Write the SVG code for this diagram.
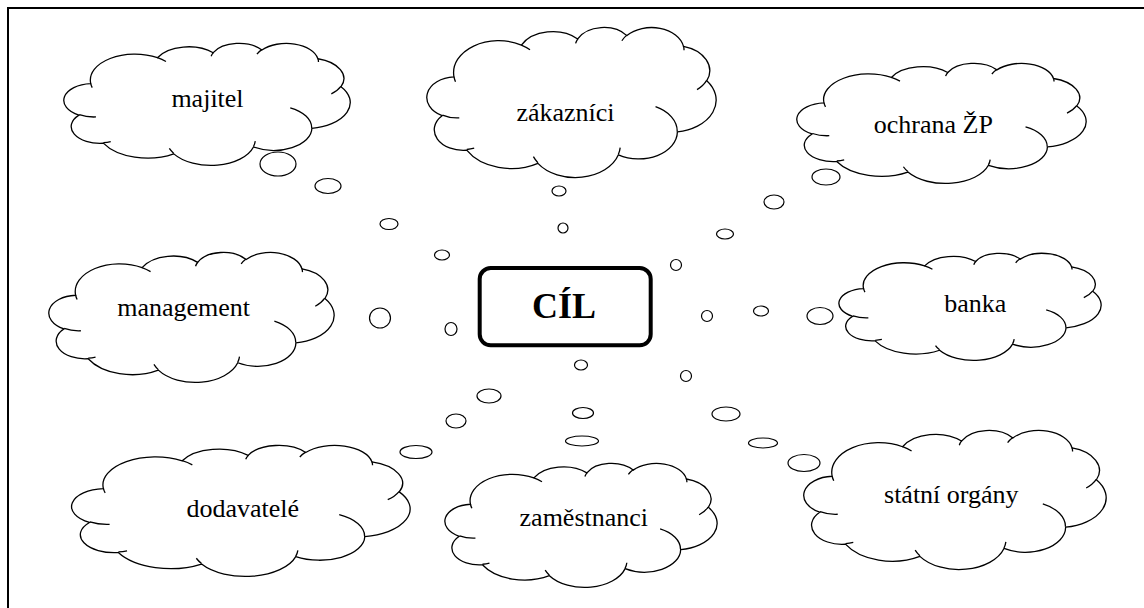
<svg xmlns="http://www.w3.org/2000/svg" xmlns:xlink="http://www.w3.org/1999/xlink" width="1144" height="608" viewBox="0 0 1144 608">
  <style>
    .outline { fill: #ffffff; stroke: #000000; stroke-width: 1.3; vector-effect: non-scaling-stroke; }
    .inner { fill: none; stroke: #000000; stroke-width: 1.3; vector-effect: non-scaling-stroke; }
    .bubble { fill: #ffffff; stroke: #000000; stroke-width: 1.2; }
    .label { font-family: "Liberation Serif", "Times New Roman", serif; font-size: 26px; fill: #000000; text-anchor: middle; }
    .goal { font-family: "Liberation Serif", "Times New Roman", serif; font-size: 36px; font-weight: bold; fill: #000000; text-anchor: middle; }
  </style>
  <defs>
    <!-- cloud outline in a 43200 x 43200 unit box -->
    <path id="cloud-shape" class="outline" d="M 3900 14370 A 6753 9190 0 0 1 14006 5203 A 5333 7267 0 0 1 22457 3431 A 4365 5945 0 0 1 29834 2479 A 4857 6595 0 0 1 38320 5574 A 5333 7273 0 0 1 41820 15458 A 6775 9220 0 0 1 37406 30201 A 5785 7867 0 0 1 28558 36812 A 6752 9215 0 0 1 16484 39263 A 7720 10543 0 0 1 5807 35469 A 4360 5918 0 0 1 2115 25547 A 4345 5945 0 0 1 3900 14370 Z"/>
    <!-- short inner strokes where the lobes meet -->
    <path id="cloud-folds" class="inner" d="M 4693 26177 A 4345 5945 0 0 1 2159 25380 M 6928 34899 A 4360 5918 0 0 1 5820 35280 M 16478 39090 A 6752 9215 0 0 1 15810 37348 M 28827 34751 A 6752 9215 0 0 1 28560 36661 M 34129 22954 A 5785 7867 0 0 1 37381 30090 M 41798 15354 A 5333 7273 0 0 1 40351 18029 M 38324 5426 A 4857 6595 0 0 1 38400 6690 M 29078 3952 A 4857 6595 0 0 1 29820 2340 M 22141 4720 A 4365 5945 0 0 1 22500 3331 M 14000 5192 A 6753 9190 0 0 1 15299 6540 M 4127 15789 A 6753 9190 0 0 1 3900 14371"/>
    <g id="cloud">
      <use xlink:href="#cloud-shape"/>
      <use xlink:href="#cloud-folds"/>
    </g>
  </defs>

  <rect width="1144" height="608" fill="#ffffff"/>

  <!-- page frame (top and left edges) -->
  <g id="frame" stroke="#000000" stroke-width="2" fill="none">
    <line x1="8" y1="8" x2="1144" y2="8"/>
    <line x1="8" y1="7" x2="8" y2="608"/>
  </g>

  <!-- thought-bubble chains linking each cloud to the goal -->
  <g id="connectors">
    <!-- majitel -->
    <ellipse class="bubble" cx="278" cy="164" rx="18" ry="12"/>
    <ellipse class="bubble" cx="328" cy="186" rx="13" ry="7.5"/>
    <ellipse class="bubble" cx="389" cy="224" rx="9" ry="5.5"/>
    <ellipse class="bubble" cx="442" cy="255" rx="7.5" ry="5"/>
    <!-- zákazníci -->
    <ellipse class="bubble" cx="559" cy="191" rx="7" ry="5"/>
    <ellipse class="bubble" cx="563" cy="228" rx="5" ry="5"/>
    <!-- ochrana ŽP -->
    <ellipse class="bubble" cx="826" cy="177" rx="14" ry="8"/>
    <ellipse class="bubble" cx="774" cy="202" rx="10" ry="7"/>
    <ellipse class="bubble" cx="725" cy="234" rx="8.5" ry="5"/>
    <ellipse class="bubble" cx="676" cy="265" rx="5.5" ry="5.5"/>
    <!-- management -->
    <ellipse class="bubble" cx="380" cy="318" rx="10.5" ry="10"/>
    <ellipse class="bubble" cx="451" cy="329" rx="6" ry="6.5"/>
    <!-- banka -->
    <ellipse class="bubble" cx="820" cy="316" rx="13" ry="8.5"/>
    <ellipse class="bubble" cx="761" cy="311" rx="7.5" ry="5"/>
    <ellipse class="bubble" cx="707" cy="316" rx="5.5" ry="5.5"/>
    <!-- dodavatelé -->
    <ellipse class="bubble" cx="416" cy="452" rx="16" ry="6.5"/>
    <ellipse class="bubble" cx="456" cy="421" rx="10" ry="7"/>
    <ellipse class="bubble" cx="489" cy="396" rx="12" ry="7"/>
    <!-- zaměstnanci -->
    <ellipse class="bubble" cx="581" cy="365" rx="6.5" ry="5"/>
    <ellipse class="bubble" cx="583" cy="413" rx="10.5" ry="5.5"/>
    <ellipse class="bubble" cx="582" cy="441" rx="16.5" ry="5"/>
    <!-- státní orgány -->
    <ellipse class="bubble" cx="686" cy="376" rx="5.5" ry="5.5"/>
    <ellipse class="bubble" cx="726" cy="414" rx="14" ry="7"/>
    <ellipse class="bubble" cx="763" cy="443" rx="14.5" ry="5"/>
    <ellipse class="bubble" cx="804" cy="463" rx="16" ry="8.5"/>
  </g>

  <g id="node-majitel">
    <use xlink:href="#cloud" transform="translate(65,43) scale(0.0066,0.002824)"/>
    <text class="label" x="207.5" y="107">majitel</text>
  </g>
  <g id="node-zakaznici">
    <use xlink:href="#cloud" transform="translate(428,27) scale(0.006667,0.003472)"/>
    <text class="label" x="565.5" y="120.5">zákazníci</text>
  </g>
  <g id="node-ochrana">
    <use xlink:href="#cloud" transform="translate(798,63) scale(0.006667,0.002778)"/>
    <text class="label" x="933.3" y="132.5">ochrana ŽP</text>
  </g>
  <g id="node-management">
    <use xlink:href="#cloud" transform="translate(50,252) scale(0.006574,0.003009)"/>
    <text class="label" x="183.7" y="316">management</text>
  </g>
  <g id="node-banka">
    <use xlink:href="#cloud" transform="translate(840,253) scale(0.006042,0.002477)"/>
    <text class="label" x="975.2" y="311.5">banka</text>
  </g>
  <g id="node-dodavatele">
    <use xlink:href="#cloud" transform="translate(73,445) scale(0.0078,0.003032)"/>
    <text class="label" x="242.8" y="517.3">dodavatelé</text>
  </g>
  <g id="node-zamestnanci">
    <use xlink:href="#cloud" transform="translate(446,463) scale(0.006273,0.00287)"/>
    <text class="label" x="583.8" y="525.7">zaměstnanci</text>
  </g>
  <g id="node-statni-organy">
    <use xlink:href="#cloud" transform="translate(805,430) scale(0.006968,0.003218)"/>
    <text class="label" x="951.3" y="503.3">státní orgány</text>
  </g>

  <g id="node-cil">
    <rect x="479.7" y="268" width="171" height="77.3" rx="11" ry="11" fill="#ffffff" stroke="#000000" stroke-width="4"/>
    <text class="goal" x="564" y="318.3">CÍL</text>
  </g>
</svg>
